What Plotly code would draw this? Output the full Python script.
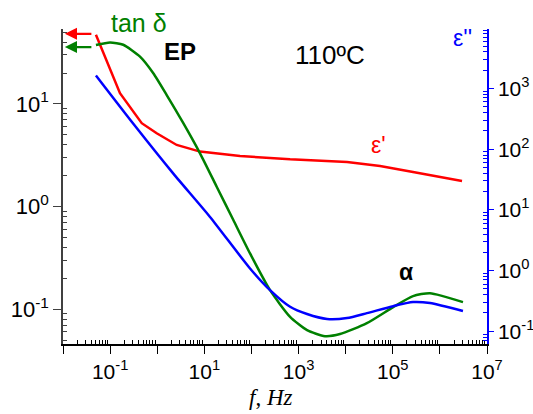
import plotly.graph_objects as go
import math

# ---- data ----
f_eps1 = [0.05, 0.162, 0.469, 0.975, 2.59, 8.1, 57.3, 661, 10700, 53700, 269000, 617000, 2950000]
eps1 = [47.1, 12.7, 6.49, 5.18, 3.98, 3.43, 3.11, 2.88, 2.72, 2.48, 2.17, 2.03, 1.77]

f_tan = [0.05, 0.0995, 0.190, 0.431, 0.826, 1.59, 3.58, 8.10, 18.3, 41.3, 93.3, 248, 661, 1514, 3631, 7586, 28200, 102000, 269000, 617000, 3090000]
tan_d = [37.5, 39.7, 37.7, 28.9, 19.9, 12.2, 6.49, 3.30, 1.56, 0.738, 0.349, 0.153, 0.0841, 0.0624, 0.0545, 0.0571, 0.0730, 0.1047, 0.134, 0.143, 0.117]

f_eps2 = [0.05, 0.311, 2.20, 13.2, 93.3, 248, 661, 1514, 4027, 10700, 28200, 102000, 269000, 617000, 3090000]
eps2 = [1637, 262, 39.5, 7.64, 1.083, 0.476, 0.253, 0.192, 0.159, 0.165, 0.199, 0.259, 0.302, 0.291, 0.215]

x_major = [10.0 ** k for k in range(-2, 8)]
x_labels = ["10<sup>%d</sup>" % k if k % 2 else "" for k in range(-2, 8)]
y_major = [0.1, 1, 10]
y_labels = ["10<sup>-1</sup>", "10<sup>0</sup>", "10<sup>1</sup>"]
y2_major = [0.1, 1, 10, 100, 1000]
y2_labels = ["10<sup>-1</sup>", "10<sup>0</sup>", "10<sup>1</sup>", "10<sup>2</sup>", "10<sup>3</sup>"]

RED, GREEN, BLUE = "#FF0000", "#008000", "#0000FF"
FONT = "Liberation Sans, Arial, sans-serif"

def minors(lo, hi):
    return [m * 10.0 ** k for k in range(lo, hi) for m in range(2, 10)]

fig = go.Figure()
fig.add_trace(go.Scatter(x=f_eps1, y=eps1, mode="lines", line=dict(color=RED, width=2.5), yaxis="y"))
fig.add_trace(go.Scatter(x=f_tan, y=tan_d, mode="lines", line=dict(color=GREEN, width=2.5, shape="spline", smoothing=0.6), yaxis="y"))
fig.add_trace(go.Scatter(x=f_eps2, y=eps2, mode="lines", line=dict(color=BLUE, width=2.5, shape="spline", smoothing=0.6), yaxis="y2"))

tickfont = dict(family=FONT, size=22, color="black")

fig.update_layout(
    width=533, height=414,
    margin=dict(l=63, r=46, t=29, b=70),
    paper_bgcolor="white", plot_bgcolor="white",
    showlegend=False,
    xaxis=dict(type="log", range=[-2, 7], showgrid=False, zeroline=False, automargin=False,
               showline=True, linecolor="black", linewidth=1.5,
               tickmode="array", tickvals=x_major, ticktext=x_labels,
               ticks="outside", ticklen=8, tickwidth=1.2, tickcolor="black",
               tickfont=dict(family=FONT, size=21, color="black"),
               minor=dict(tickmode="array", tickvals=minors(-2, 7), ticks="inside",
                          ticklen=4, tickwidth=1, tickcolor="black", showgrid=False)),
    yaxis=dict(type="log", range=[-1.34, 1.73], showgrid=False, zeroline=False, automargin=False,
               showline=True, linecolor="#404040", linewidth=1.5,
               tickmode="array", tickvals=y_major, ticktext=y_labels,
               ticks="outside", ticklen=8, tickwidth=1.2, tickcolor="#404040",
               tickfont=tickfont,
               minor=dict(tickmode="array", tickvals=minors(-2, 2), ticks="inside",
                          ticklen=4, tickwidth=1, tickcolor="#404040", showgrid=False)),
    yaxis2=dict(type="log", range=[-1.21, 3.98], overlaying="y", side="right",
                showgrid=False, zeroline=False, automargin=False,
                showline=True, linecolor=BLUE, linewidth=1.5,
                tickmode="array", tickvals=y2_major, ticktext=y2_labels,
                ticks="outside", ticklen=5, tickwidth=1.2, tickcolor=BLUE,
                tickfont=dict(family=FONT, size=21, color="black"),
                minor=dict(tickmode="array", tickvals=minors(-2, 4), ticks="inside",
                           ticklen=4, tickwidth=1, tickcolor=BLUE, showgrid=False)),
)

def txt(x, y, s, color="black", size=22, bold=False, family=FONT):
    fig.add_annotation(x=x, y=y, xref="paper", yref="paper", text=("<b>%s</b>" % s) if bold else s,
                       showarrow=False, font=dict(family=family, size=size, color=color),
                       xanchor="center", yanchor="middle")

txt(0.179, 1.019, "tan δ", GREEN, 25)
txt(0.276, 0.929, "EP", "black", 24, bold=True)
txt(0.630, 0.917, "110ºC", "black", 26)
txt(0.943, 0.971, "ε''", BLUE, 23)
txt(0.745, 0.632, "ε'", RED, 23)
txt(0.809, 0.229, "α", "black", 23, bold=True)
txt(0.491, -0.171, "<i>f</i>, <i>Hz</i>", "black", 23,
    family="Liberation Serif, Times New Roman, serif")

# arrows pointing to the axis each curve belongs to
def arrow(x, y, yref, color, ax):
    fig.add_annotation(x=x, y=y, xref="x", yref=yref, text="", showarrow=True,
                       arrowhead=2, arrowsize=1.1, arrowwidth=2.2, arrowcolor=color,
                       ax=ax, ay=0)

arrow(-1.96, math.log10(eps1[0]) + 0.01, "y", RED, 28)
arrow(-1.96, math.log10(tan_d[0]) - 0.02, "y", GREEN, 28)
arrow(7.03, math.log10(eps2[-1]) - 0.1, "y2", BLUE, -27)

fig.write_html("out.html")
